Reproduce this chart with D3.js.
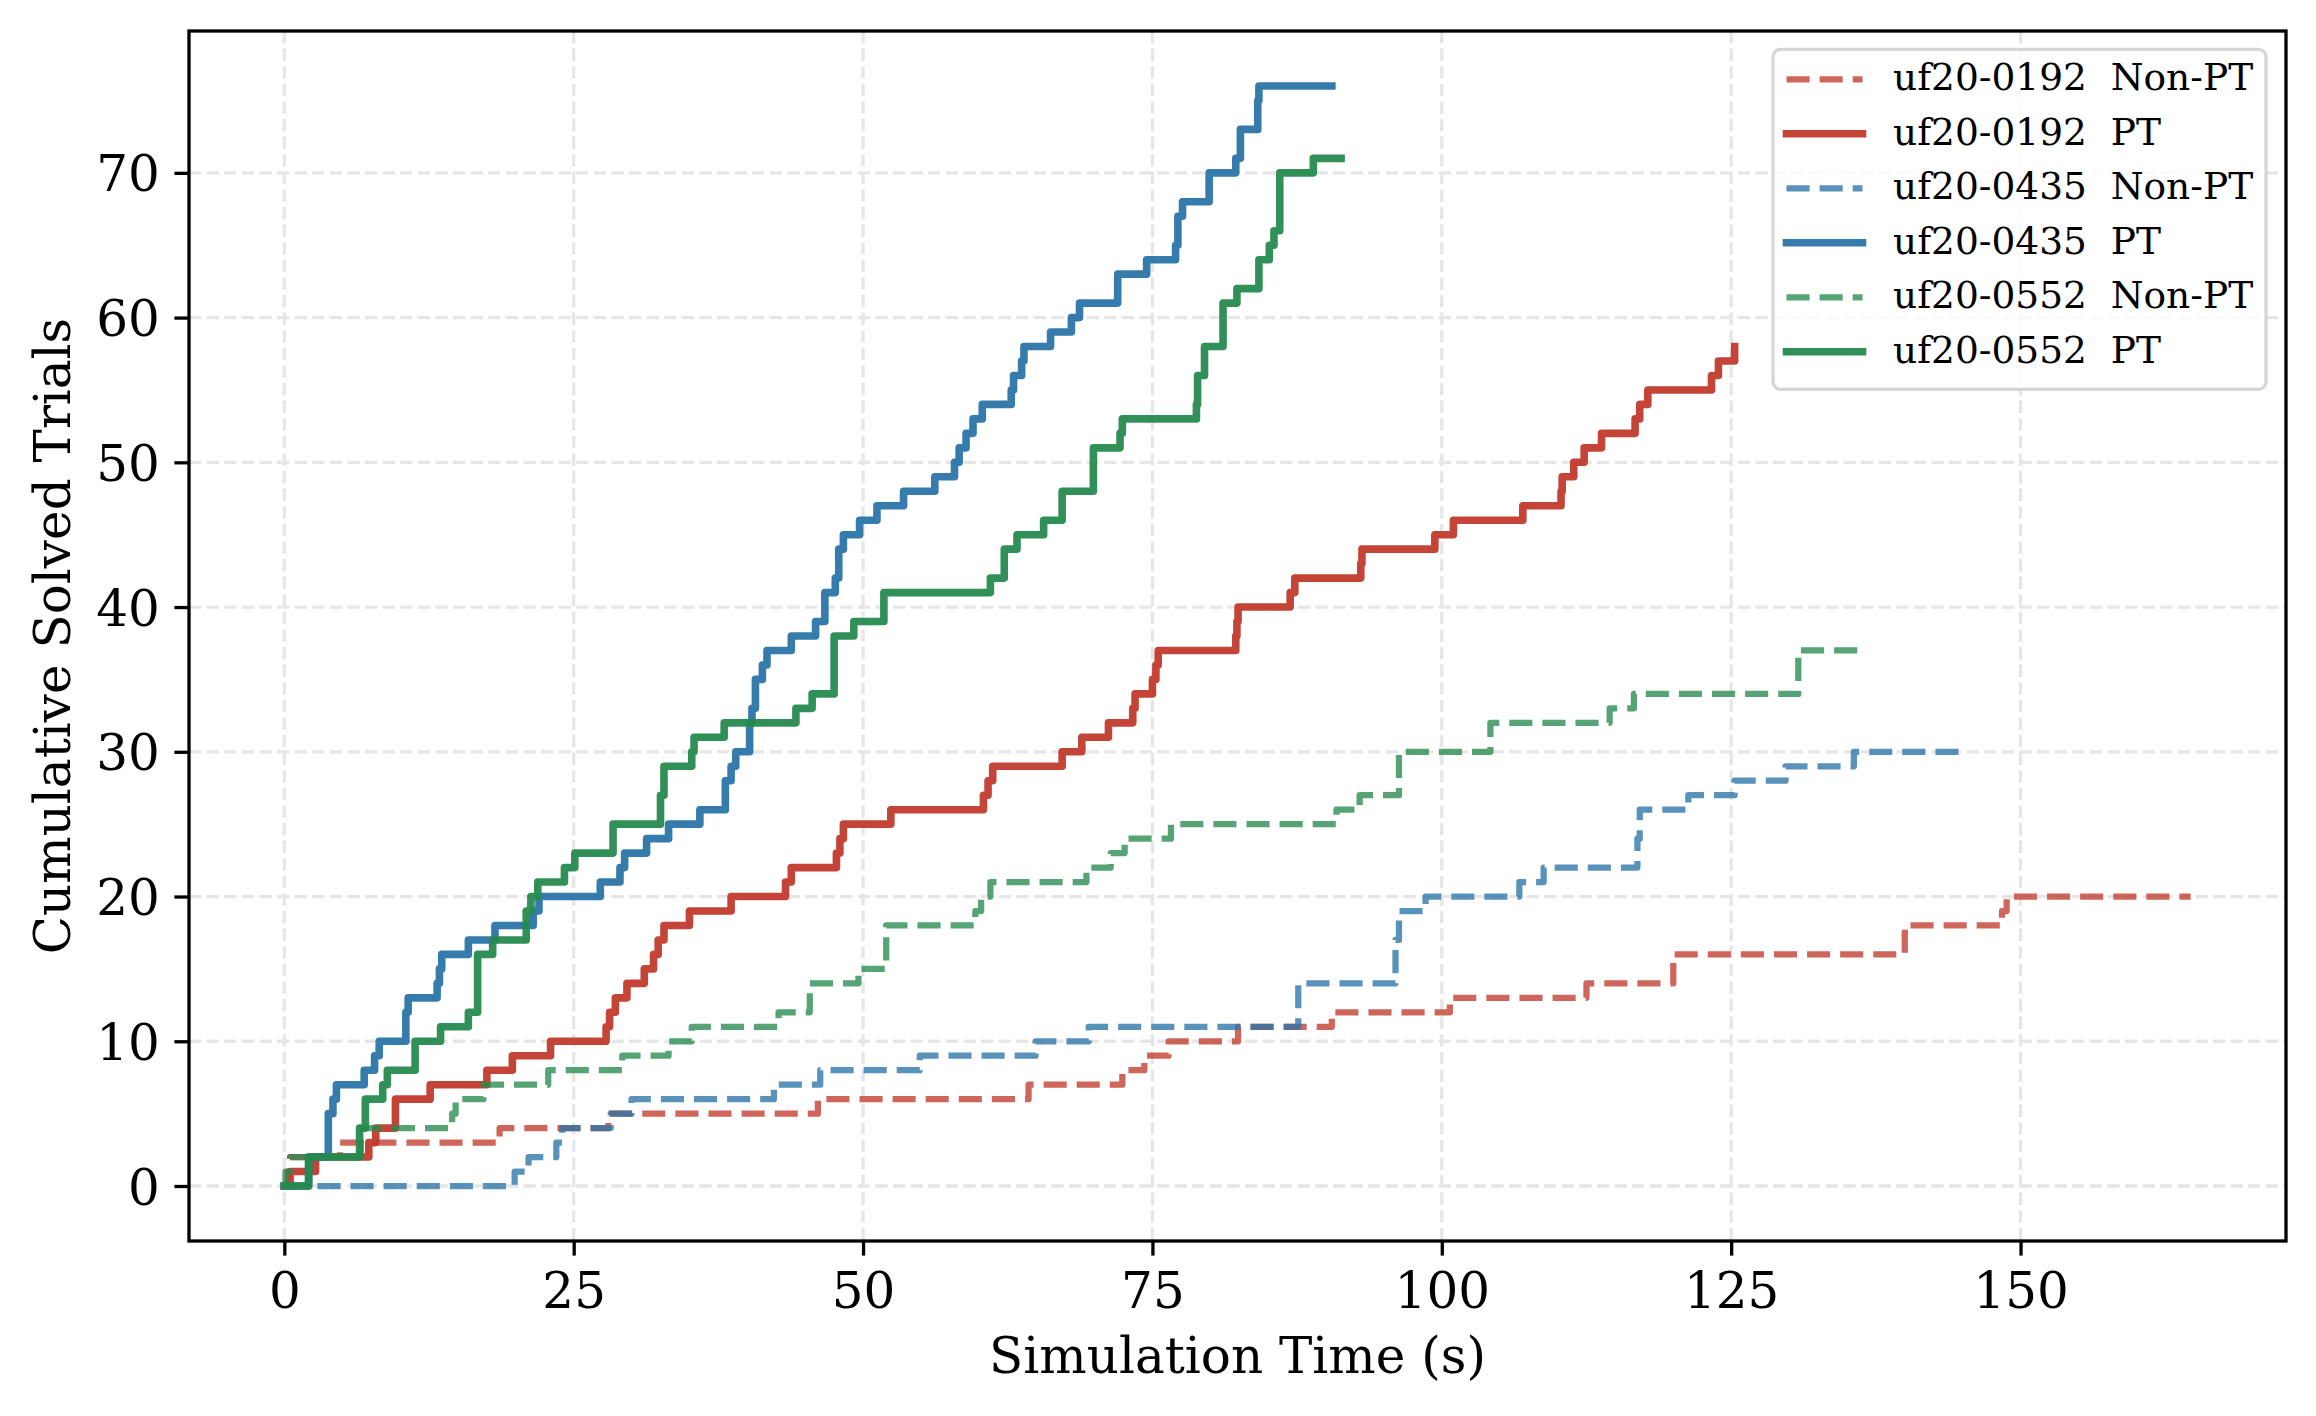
<!DOCTYPE html>
<html>
<head>
<meta charset="utf-8">
<script src="https://cdn.jsdelivr.net/npm/d3@7"></script>
<style>
  html, body { margin: 0; padding: 0; background: #fff; }
  svg { display: block; font-family: "DejaVu Serif", serif; }
</style>
</head>
<body>
<svg id="chart" width="2316" height="1416"></svg>
<script>
// step data: [time (s), cumulative solved] at each jump
const np0192 = [[0,0],[0.3,1],[0.5,2],[4.8,3],[18.6,4],[28.0,5],[46.1,6],[64.3,7],[72.4,8],[74.3,9],[76.4,10],[82.4,11],[90.5,12],[100.7,13],[112.5,14],[120.0,16],[140.0,18],[148.4,19],[148.8,20]];
const pt0192 = [[0,0],[0.5,1],[2.7,2],[7.3,3],[7.9,4],[9.6,6],[12.6,7],[17.5,8],[19.7,9],[23.0,10],[27.8,11],[28.1,12],[28.6,13],[29.6,14],[31.1,15],[31.9,16],[32.3,17],[32.8,18],[35.0,19],[38.6,20],[43.3,21],[43.8,22],[47.7,23],[48.0,24],[48.3,25],[52.4,26],[60.4,27],[60.8,28],[61.2,29],[67.2,30],[68.9,31],[71.2,32],[73.3,33],[73.5,34],[75.0,35],[75.3,36],[75.5,37],[82.2,38],[82.3,39],[82.4,40],[86.9,41],[87.3,42],[93.0,43],[93.1,44],[99.4,45],[101.0,46],[107.0,47],[110.3,48],[110.4,49],[111.4,50],[112.3,51],[113.8,52],[116.7,53],[117.1,54],[117.8,55],[123.3,56],[123.9,57],[125.3,58]];
const np0435 = [[0,0],[19.9,1],[21.1,2],[23.5,3],[24.0,4],[28.2,5],[30.0,6],[42.3,7],[46.3,8],[54.9,9],[64.9,10],[69.5,11],[87.6,14],[96.0,17],[96.3,19],[98.6,20],[106.7,21],[108.8,22],[116.9,24],[117.1,26],[121.3,27],[125.3,28],[129.7,29],[135.6,30]];
const pt0435 = [[0,0],[2.1,2],[3.8,5],[4.2,6],[4.5,7],[6.9,8],[7.8,9],[8.2,10],[10.5,12],[10.7,13],[13.2,14],[13.4,15],[13.6,16],[15.9,17],[18.2,18],[21.5,19],[22.0,20],[27.3,21],[29.0,22],[29.4,23],[31.3,24],[33.2,25],[35.9,26],[38.1,28],[38.6,29],[39.0,30],[40.2,32],[40.4,33],[40.7,35],[41.3,36],[41.7,37],[43.8,38],[45.9,39],[46.7,41],[47.6,42],[47.9,44],[48.3,45],[49.7,46],[51.2,47],[53.5,48],[56.2,49],[57.9,50],[58.3,51],[58.9,52],[59.5,53],[60.3,54],[62.8,55],[63.0,56],[63.7,57],[63.9,58],[66.2,59],[68.0,60],[68.7,61],[72.0,63],[74.5,64],[77.0,65],[77.2,67],[77.6,68],[79.9,70],[82.2,71],[82.6,73],[84.1,75],[84.2,76]];
const np0552 = [[0,0],[0.1,1],[0.5,2],[6.6,4],[14.5,5],[14.8,6],[17.2,7],[22.8,8],[29.2,9],[33.2,10],[35.2,11],[42.7,12],[45.4,14],[49.6,15],[52.0,18],[59.7,19],[60.2,20],[61.0,21],[69.3,22],[71.4,23],[72.6,24],[76.6,25],[90.9,26],[92.9,27],[96.3,30],[104.2,32],[114.5,33],[116.6,34],[130.8,37]];
const pt0552 = [[0,0],[2.1,2],[6.5,4],[7.0,6],[8.5,7],[8.9,8],[11.3,10],[13.5,11],[15.9,12],[16.7,16],[18.0,17],[20.9,19],[21.3,20],[21.9,21],[24.2,22],[25.1,23],[28.4,25],[32.5,27],[32.8,29],[35.2,30],[35.4,31],[38.0,32],[44.2,33],[45.6,34],[47.5,38],[49.2,39],[51.8,41],[61.0,42],[62.2,44],[63.3,45],[65.6,46],[67.2,48],[69.9,51],[72.2,52],[72.4,53],[78.8,54],[78.9,56],[79.5,58],[81.1,61],[82.3,62],[84.2,64],[85.1,65],[85.5,66],[86.0,70],[88.9,71]];

const seriesData = [np0192, pt0192, np0435, pt0435, np0552, pt0552];
const endTimes = [164.7, 125.3, 144.9, 90.5, 136.7, 91.3];
const seriesLabels = ['uf20-0192  Non-PT', 'uf20-0192  PT', 'uf20-0435  Non-PT', 'uf20-0435  PT', 'uf20-0552  Non-PT', 'uf20-0552  PT'];
const seriesColors = ['#c13b2d', '#c13b2d', '#2a74a8', '#2a74a8', '#268a4f', '#268a4f'];
const seriesDashed = [true, false, true, false, true, false];

const xTicks = [0, 25, 50, 75, 100, 125, 150];
const yTicks = [0, 10, 20, 30, 40, 50, 60, 70];

const W = 2316, H = 1416;
const margin = { left: 189, right: 30, top: 31, bottom: 175 };
const plotL = margin.left, plotR = W - margin.right;
const plotT = margin.top, plotB = H - margin.bottom;

const svg = d3.select('#chart');

// matplotlib-style 5% auto margins
const xMax = d3.max(endTimes);
const yMax = d3.max(seriesData, s => d3.max(s, d => d[1]));
const x = d3.scaleLinear().domain([-0.05 * xMax, xMax * 1.05]).range([plotL, plotR]);
const y = d3.scaleLinear().domain([-0.05 * yMax, yMax * 1.05]).range([plotB, plotT]);

// Grid
const grid = svg.append('g').attr('class', 'grid');
xTicks.forEach(t => {
  grid.append('line')
    .attr('x1', x(t)).attr('x2', x(t))
    .attr('y1', plotT).attr('y2', plotB)
    .attr('stroke', '#e6e6e6').attr('stroke-width', 3.3)
    .attr('stroke-dasharray', '12.3,5.3');
});
yTicks.forEach(t => {
  grid.append('line')
    .attr('x1', plotL).attr('x2', plotR)
    .attr('y1', y(t)).attr('y2', y(t))
    .attr('stroke', '#e6e6e6').attr('stroke-width', 3.3)
    .attr('stroke-dasharray', '12.3,5.3');
});

// Lines
const line = d3.line()
  .x(d => x(d[0]))
  .y(d => y(d[1]))
  .curve(d3.curveStepAfter);

const linesG = svg.append('g').attr('class', 'lines');
seriesData.forEach((steps, i) => {
  const last = steps[steps.length - 1];
  const pts = steps.concat([[endTimes[i], last[1]]]);
  const p = linesG.append('path')
    .attr('d', line(pts))
    .attr('fill', 'none')
    .attr('stroke', seriesColors[i])
    .attr('stroke-linejoin', 'round');
  if (seriesDashed[i]) {
    p.attr('stroke-width', 6.25)
      .attr('stroke-dasharray', '23.1,10')
      .attr('stroke-linecap', 'butt')
      .attr('stroke-opacity', 0.78);
  } else {
    p.attr('stroke-width', 7.6)
      .attr('stroke-linecap', 'square')
      .attr('stroke-opacity', 0.95);
  }
});

// Axes
const xAxis = svg.append('g')
  .attr('transform', `translate(0,${plotB})`)
  .call(d3.axisBottom(x).tickValues(xTicks).tickSize(14.6).tickPadding(16.9).tickFormat(d3.format('d')));
const yAxis = svg.append('g')
  .attr('transform', `translate(${plotL},0)`)
  .call(d3.axisLeft(y).tickValues(yTicks).tickSize(14.6).tickPadding(14.6).tickFormat(d3.format('d')));

[xAxis, yAxis].forEach(ax => {
  ax.select('.domain').remove();
  ax.selectAll('.tick line').attr('stroke', '#000').attr('stroke-width', 3.3);
  ax.selectAll('.tick text')
    .attr('fill', '#000')
    .style('font-family', '"DejaVu Serif", serif')
    .style('font-size', '50px');
});
yAxis.selectAll('.tick text').attr('dy', '0.36em');

// Spines
svg.append('rect')
  .attr('x', plotL).attr('y', plotT)
  .attr('width', plotR - plotL).attr('height', plotB - plotT)
  .attr('fill', 'none').attr('stroke', '#000').attr('stroke-width', 3.3);

// Axis labels
svg.append('text')
  .attr('x', (plotL + plotR) / 2).attr('y', 1373)
  .attr('text-anchor', 'middle')
  .style('font-size', '50px')
  .text('Simulation Time (s)');

svg.append('text')
  .attr('transform', `translate(70,${(plotT + plotB) / 2}) rotate(-90)`)
  .attr('text-anchor', 'middle')
  .style('font-size', '50px')
  .text('Cumulative Solved Trials');

// Legend
const legend = svg.append('g').attr('class', 'legend');
legend.append('rect')
  .attr('x', 1773).attr('y', 49.3)
  .attr('width', 493).attr('height', 340)
  .attr('rx', 7.5).attr('ry', 7.5)
  .attr('fill', '#fff').attr('fill-opacity', 0.8)
  .attr('stroke', '#cccccc').attr('stroke-opacity', 0.8)
  .attr('stroke-width', 3.3);

const rowY0 = 79.3, rowGap = 54.5;
seriesLabels.forEach((label, i) => {
  const ry = rowY0 + i * rowGap;
  const h = legend.append('line')
    .attr('x1', 1786.5).attr('x2', 1862.5)
    .attr('y1', ry).attr('y2', ry)
    .attr('stroke', seriesColors[i]);
  if (seriesDashed[i]) {
    h.attr('stroke-width', 6.25)
      .attr('stroke-dasharray', '23.1,10')
      .attr('stroke-opacity', 0.78);
  } else {
    h.attr('stroke-width', 7.6)
      .attr('stroke-linecap', 'square')
      .attr('stroke-opacity', 0.95);
  }
  legend.append('text')
    .attr('x', 1893).attr('y', ry + 11)
    .style('font-size', '37.5px')
    .style('white-space', 'pre')
    .text(label);
});
</script>
</body>
</html>
